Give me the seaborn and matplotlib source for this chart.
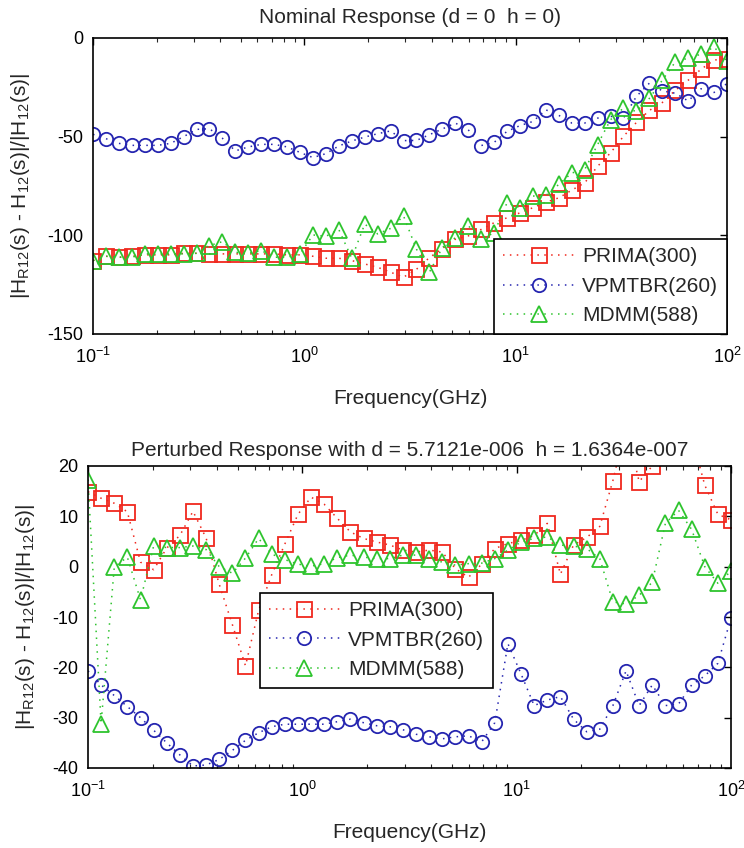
import numpy as np
import pandas as pd
import matplotlib
matplotlib.use("Agg")
import matplotlib.pyplot as plt
import seaborn as sns
from matplotlib import font_manager as fm
from matplotlib.ticker import LogLocator, FixedLocator, NullFormatter

# ---------------- data ----------------
freq_ghz = [0.1, 0.1151, 0.1326, 0.1526, 0.1758, 0.2024, 0.2330, 0.2683, 0.3089, 0.3556,
            0.4095, 0.4715, 0.5429, 0.6251, 0.7197, 0.8286, 0.9541, 1.0985, 1.2649, 1.4563,
            1.6768, 1.9307, 2.2230, 2.5595, 2.9471, 3.3932, 3.9069, 4.4984, 5.1795, 5.9636,
            6.8665, 7.9060, 9.1030, 10.481, 12.068, 13.895, 15.999, 18.421, 21.210, 24.421,
            28.118, 32.375, 37.276, 42.919, 49.417, 56.899, 65.513, 75.431, 86.851, 100.0]

series_labels = ["PRIMA(300)", "VPMTBR(260)", "MDMM(588)"]

prima_nominal = [-112.8, -110.6, -111.1, -110.6, -109.9, -109.9, -109.9, -109.1, -109.1, -109.4,
                 -109.4, -109.4, -109.4, -109.4, -109.4, -109.9, -109.9, -110.6, -111.6, -111.6,
                 -112.8, -114.5, -116.2, -118.7, -121.2, -117.2, -111.3, -106.7, -102.0, -100.3,
                 -97.0, -93.6, -91.1, -88.6, -86.0, -83.2, -81.0, -77.1, -73.4, -65.0,
                 -58.2, -49.8, -42.8, -36.7, -32.7, -26.5, -21.4, -15.8, -11.2, -10.4]
vpmtbr_nominal = [-48.8, -51.0, -53.4, -54.4, -54.4, -54.4, -53.4, -50.0, -46.3, -46.0,
                  -50.8, -57.2, -55.2, -53.9, -53.9, -55.2, -58.0, -60.6, -58.6, -54.7,
                  -52.2, -50.2, -48.5, -47.1, -52.0, -51.9, -49.0, -46.1, -43.1, -46.5,
                  -54.5, -52.9, -47.3, -44.4, -42.3, -36.4, -39.2, -43.1, -43.1, -40.6,
                  -39.7, -40.6, -29.6, -22.9, -26.8, -28.0, -31.9, -25.7, -27.6, -23.1]
mdmm_nominal = [-112.8, -110.6, -111.1, -111.1, -109.4, -109.4, -109.4, -109.4, -109.1, -105.2,
                -103.2, -108.6, -109.1, -107.7, -111.1, -111.1, -109.4, -99.8, -100.5, -97.1,
                -111.6, -94.3, -99.3, -96.5, -90.2, -107.0, -118.7, -106.2, -101.2, -95.1,
                -102.0, -98.7, -83.5, -86.0, -80.1, -79.8, -74.2, -68.4, -66.7, -54.0,
                -41.4, -35.5, -37.2, -30.6, -21.4, -12.2, -10.2, -8.2, -4.6, -11.7]

prima_perturbed = [14.9, 13.6, 12.6, 10.9, 0.9, -0.6, 3.7, 6.2, 11.0, 5.7,
                   -3.5, -11.5, -19.7, -8.7, -1.6, 4.5, 10.4, 13.8, 12.4, 9.6,
                   6.9, 5.6, 4.9, 4.3, 3.3, 2.9, 3.3, 2.9, -0.4, -2.1,
                   0.5, 3.6, 4.6, 5.2, 6.2, 8.6, -1.5, 4.3, 5.8, 8.0,
                   17.1, 28.0, 16.9, 20.0, 25.0, 30.0, 26.0, 16.2, 10.4, 9.3]
vpmtbr_perturbed = [-20.7, -23.5, -25.6, -27.8, -30.0, -32.5, -35.0, -37.4, -39.6, -39.4,
                    -38.3, -36.5, -34.5, -33.0, -31.8, -31.3, -31.3, -31.3, -31.3, -30.8,
                    -30.3, -31.0, -31.6, -31.8, -32.4, -33.3, -33.8, -34.2, -33.8, -33.6,
                    -34.8, -31.0, -15.3, -21.3, -27.6, -26.5, -25.8, -30.3, -32.8, -32.3,
                    -27.6, -20.7, -27.6, -23.5, -27.6, -27.3, -23.5, -21.7, -19.2, -10.2]
mdmm_perturbed = [17.3, -31.2, -0.1, 1.9, -6.6, 4.1, 3.8, 3.8, 4.1, 3.4,
                  0.0, -1.3, 1.7, 5.6, 2.5, 1.4, 0.5, 0.1, 0.6, 1.8,
                  2.3, 1.9, 1.6, 1.6, 2.3, 2.3, 1.6, 0.9, 0.3, 0.6,
                  0.7, 1.6, 3.3, 4.9, 5.6, 5.9, 4.3, 4.1, 3.6, 1.6,
                  -7.0, -7.4, -5.7, -3.1, 8.6, 11.2, 7.4, 0.0, -3.3, -0.9]

top_title = "Nominal Response (d = 0  h = 0)"
bottom_title = "Perturbed Response with d = 5.7121e-006  h = 1.6364e-007"
x_label = "Frequency(GHz)"
y_label = r"|H$_\mathregular{R12}$(s) - H$_\mathregular{12}$(s)|/|H$_\mathregular{12}$(s)|"
top_yticks = [-150, -100, -50, 0]
bottom_yticks = [-40, -30, -20, -10, 0, 10, 20]
x_ticks = [0.1, 1, 10, 100]
x_ticklabels = [r"10$^\mathregular{-1}$", r"10$^\mathregular{0}$", r"10$^\mathregular{1}$", r"10$^\mathregular{2}$"]

# ---------------- style ----------------
sns.set_theme(style="white")
names = {f.name for f in fm.fontManager.ttflist}
FONT = "Liberation Sans" if "Liberation Sans" in names else "DejaVu Sans"
plt.rcParams["font.family"] = [FONT, "DejaVu Sans"]
plt.rcParams["mathtext.fontset"] = "custom"
plt.rcParams["mathtext.rm"] = FONT
plt.rcParams["mathtext.it"] = FONT + ":italic"
plt.rcParams["mathtext.bf"] = FONT + ":bold"
plt.rcParams["axes.unicode_minus"] = False

FS_TICK = 13
FS_TEXT = 15
colors = ["#f0281e", "#2626b0", "#2ec42e"]
markers = ["s", "o", "^"]
msizes = [10.8, 9.6, 11.2]

fig = plt.figure(figsize=(7.44, 8.48), dpi=100)
ax1 = fig.add_axes([93 / 744, 1 - 334 / 848, 634 / 744, 296 / 848])
ax2 = fig.add_axes([88 / 744, 1 - 768 / 848, 643 / 744, 302 / 848])

panels = [
    (ax1, [prima_nominal, vpmtbr_nominal, mdmm_nominal], top_title, (-150, 0), top_yticks, 11),
    (ax2, [prima_perturbed, vpmtbr_perturbed, mdmm_perturbed], bottom_title, (-40, 20), bottom_yticks, 7),
]

for ax, ys, title, ylim, yticks, tpad in panels:
    for vals, lab, c, m, ms in zip(ys, series_labels, colors, markers, msizes):
        df = pd.DataFrame({"freq": freq_ghz, "val": vals})
        sns.lineplot(data=df, x="freq", y="val", ax=ax, color=c,
                     linestyle=(0, (1, 3.5)), linewidth=1.1,
                     marker=m, markersize=ms, markerfacecolor="none",
                     markeredgecolor=c, markeredgewidth=1.3,
                     label=lab, sort=False, estimator=None)
    ax.set_xscale("log")
    ax.set_xlim(0.1, 100)
    ax.set_ylim(*ylim)
    ax.set_yticks(yticks)
    ax.set_yticklabels([str(t) for t in yticks], fontsize=FS_TICK)
    ax.xaxis.set_major_locator(FixedLocator(x_ticks))
    ax.set_xticklabels(x_ticklabels, fontsize=FS_TICK)
    ax.xaxis.set_minor_locator(LogLocator(base=10, subs=np.arange(2, 10)))
    ax.xaxis.set_minor_formatter(NullFormatter())
    ax.tick_params(axis="both", which="major", direction="in", length=5, width=1.0,
                   top=True, right=True, colors="black")
    ax.tick_params(axis="x", which="major", pad=9)
    ax.tick_params(axis="y", which="major", pad=7)
    ax.tick_params(axis="x", which="minor", direction="in", length=3, width=0.8,
                   top=True, bottom=True)
    for sp in ax.spines.values():
        sp.set_visible(True)
        sp.set_color("black")
        sp.set_linewidth(1.2)
    ax.set_title(title, fontsize=FS_TEXT, pad=tpad)
    ax.set_xlabel(x_label, fontsize=FS_TEXT, labelpad=16)
    ax.set_ylabel(y_label, fontsize=FS_TEXT, labelpad=11)
    ax.grid(False)
    ax.set_facecolor("white")

leg_kw = dict(fontsize=FS_TEXT, frameon=True, fancybox=False, edgecolor="black",
              facecolor="white", framealpha=1.0, handlelength=3.4, handletextpad=0.4,
              labelspacing=0.5, borderpad=0.42, numpoints=1)
l1 = ax1.legend(loc="lower right", bbox_to_anchor=(1.0, 0.0), borderaxespad=0.0, **leg_kw)
l2 = ax2.legend(loc="upper left", bbox_to_anchor=(0.268, 0.581), borderaxespad=0.0, **leg_kw)
for lg in (l1, l2):
    lg.get_frame().set_linewidth(1.2)

fig.savefig("out.png", dpi=100, facecolor="white")
